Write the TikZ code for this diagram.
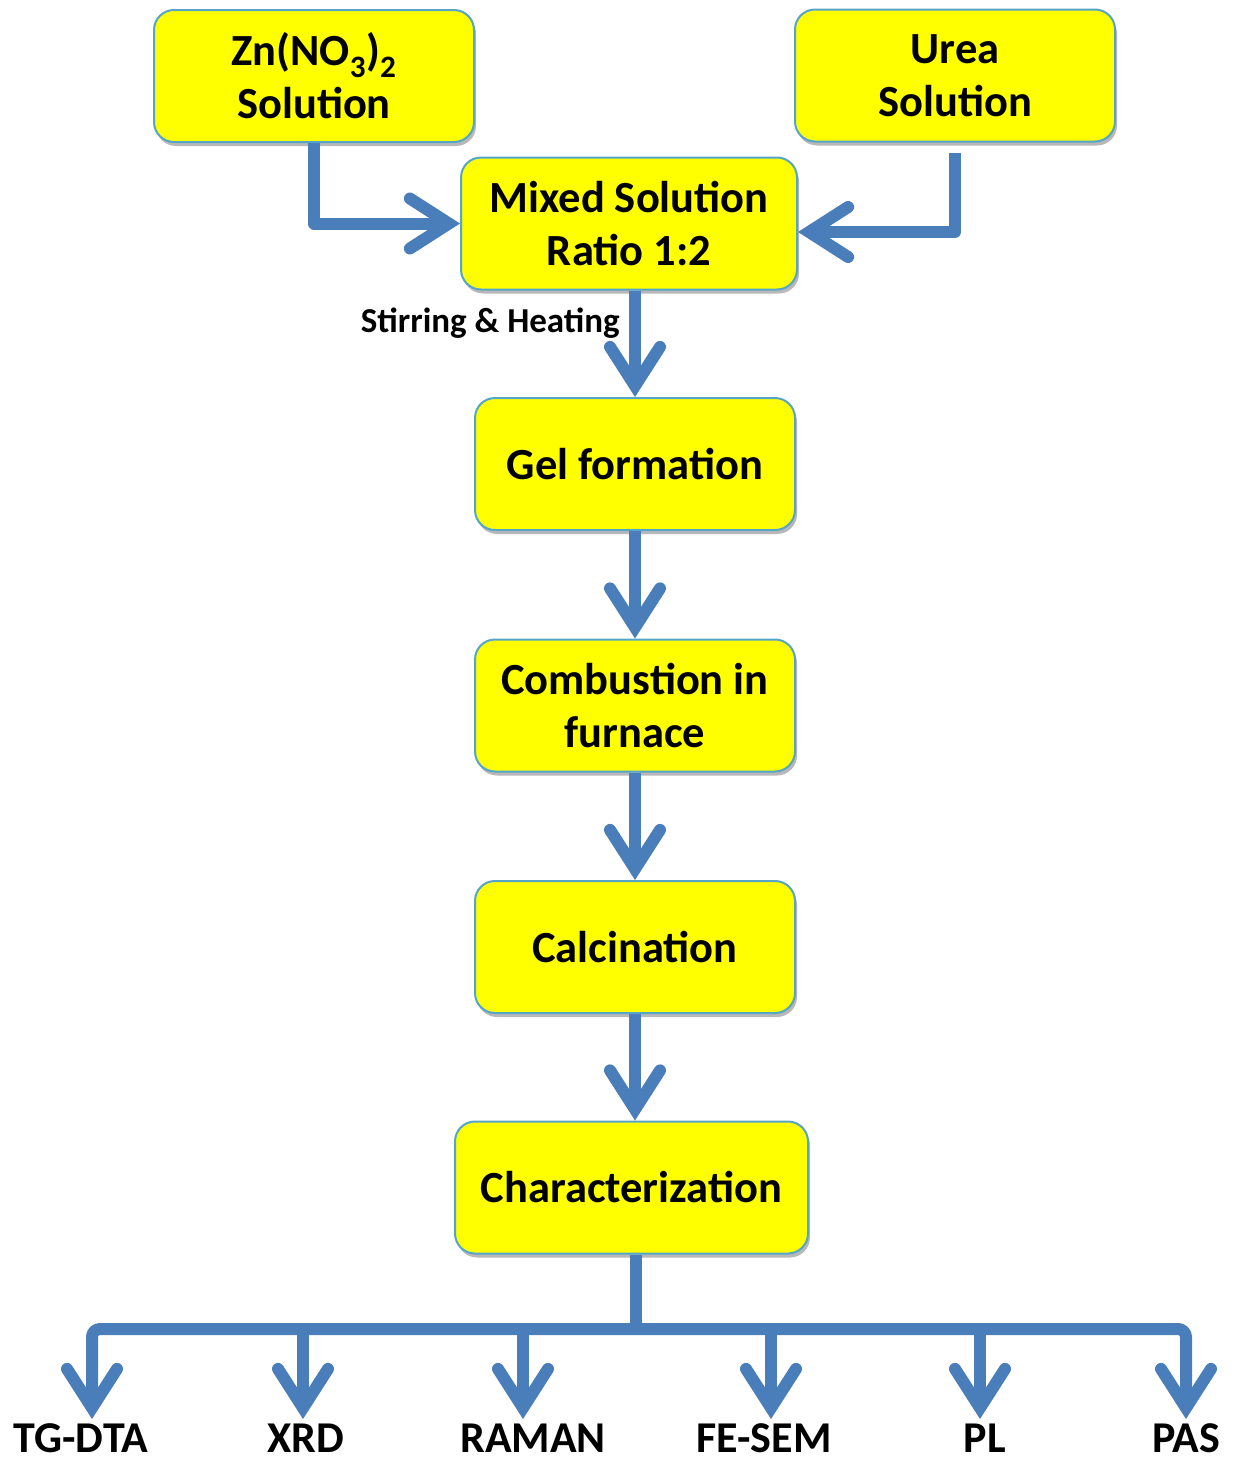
\documentclass[tikz,border=0pt]{standalone}
\usepackage{fontspec}
\setmainfont{Carlito}
\usetikzlibrary{arrows.meta,shadows}
\definecolor{flowblue}{RGB}{74,126,187}
\definecolor{boxedge}{RGB}{84,165,200}
\definecolor{boxfill}{RGB}{255,255,0}
\begin{document}
\begin{tikzpicture}[x=1pt,y=-1pt,
  stepbox/.style={draw=boxedge, line width=2pt, fill=boxfill, rounded corners=20pt,
    minimum width=320pt, minimum height=132pt, inner sep=0pt, align=center,
    font=\fontsize{44.5}{53}\selectfont\bfseries,
    drop shadow={shadow xshift=2pt, shadow yshift=-4pt, fill=black, opacity=0.28}},
  flow/.style={draw=flowblue, line width=12pt, line join=round,
    -{Straight Barb[length=39pt, width=50pt, line cap=round, line join=miter]}},
  bus/.style={draw=flowblue, line width=12pt, line join=round},
  result/.style={anchor=base, inner sep=0pt,
    font=\fontsize{44}{50}\selectfont\bfseries},
]
\useasboundingbox (0,0) rectangle (1236,1462);

% process steps
\node[stepbox] (zn)   at (314,76)    {Zn(NO\textsubscript{3})\textsubscript{2}\\Solution};
\node[stepbox] (urea) at (955,75.5)  {Urea\\Solution};
\node[stepbox, minimum width=336pt] (mix) at (629,223.5) {Mixed Solution\\Ratio 1:2};
\node[stepbox] (gel)  at (635,464)   {Gel formation};
\node[stepbox] (comb) at (635,705.5) {Combustion in\\furnace};
\node[stepbox] (calc) at (635,947)   {Calcination};
\node[stepbox, minimum width=353pt] (char) at (631.5,1187.5) {Characterization};

% feeds into the mixture
\draw[flow] (zn.south) |- (mix.west);
\draw[flow] ([yshift=-10pt]urea.south) |- ([yshift=-8.5pt]mix.east);

% main sequence
\node[anchor=base east, inner sep=0pt, font=\fontsize{35}{40}\selectfont\bfseries]
  (stir) at (620,332) {Stirring \& Heating};
\draw[flow] (mix.south -| gel.north) -- (gel.north);
\draw[flow] (gel) -- (comb);
\draw[flow] (comb) -- (calc);
\draw[flow] (calc.south) -- (calc.south |- char.north);

% characterization techniques
\coordinate (hub) at (636,1329);
\coordinate (tA) at (92,1419);
\coordinate (tB) at (303,1419);
\coordinate (tC) at (523,1419);
\coordinate (tD) at (771,1419);
\coordinate (tE) at (980,1419);
\coordinate (tF) at (1186,1419);

\node[result] (lA) at (81,1452)   {TG-DTA};
\node[result] (lB) at (306,1452)  {XRD};
\node[result] (lC) at (533,1452)  {RAMAN};
\node[result] (lD) at (764,1452)  {FE-SEM};
\node[result] (lE) at (985,1452)  {PL};
\node[result] (lF) at (1186,1452) {PAS};

\draw[bus] (char.south -| hub) -- (hub);
\draw[flow, rounded corners=8pt] (hub) -| (tA);
\draw[flow, rounded corners=8pt] (hub) -| (tF);
\draw[flow] (tB |- hub) -- (tB);
\draw[flow] (tC |- hub) -- (tC);
\draw[flow] (tD |- hub) -- (tD);
\draw[flow] (tE |- hub) -- (tE);
\end{tikzpicture}
\end{document}
